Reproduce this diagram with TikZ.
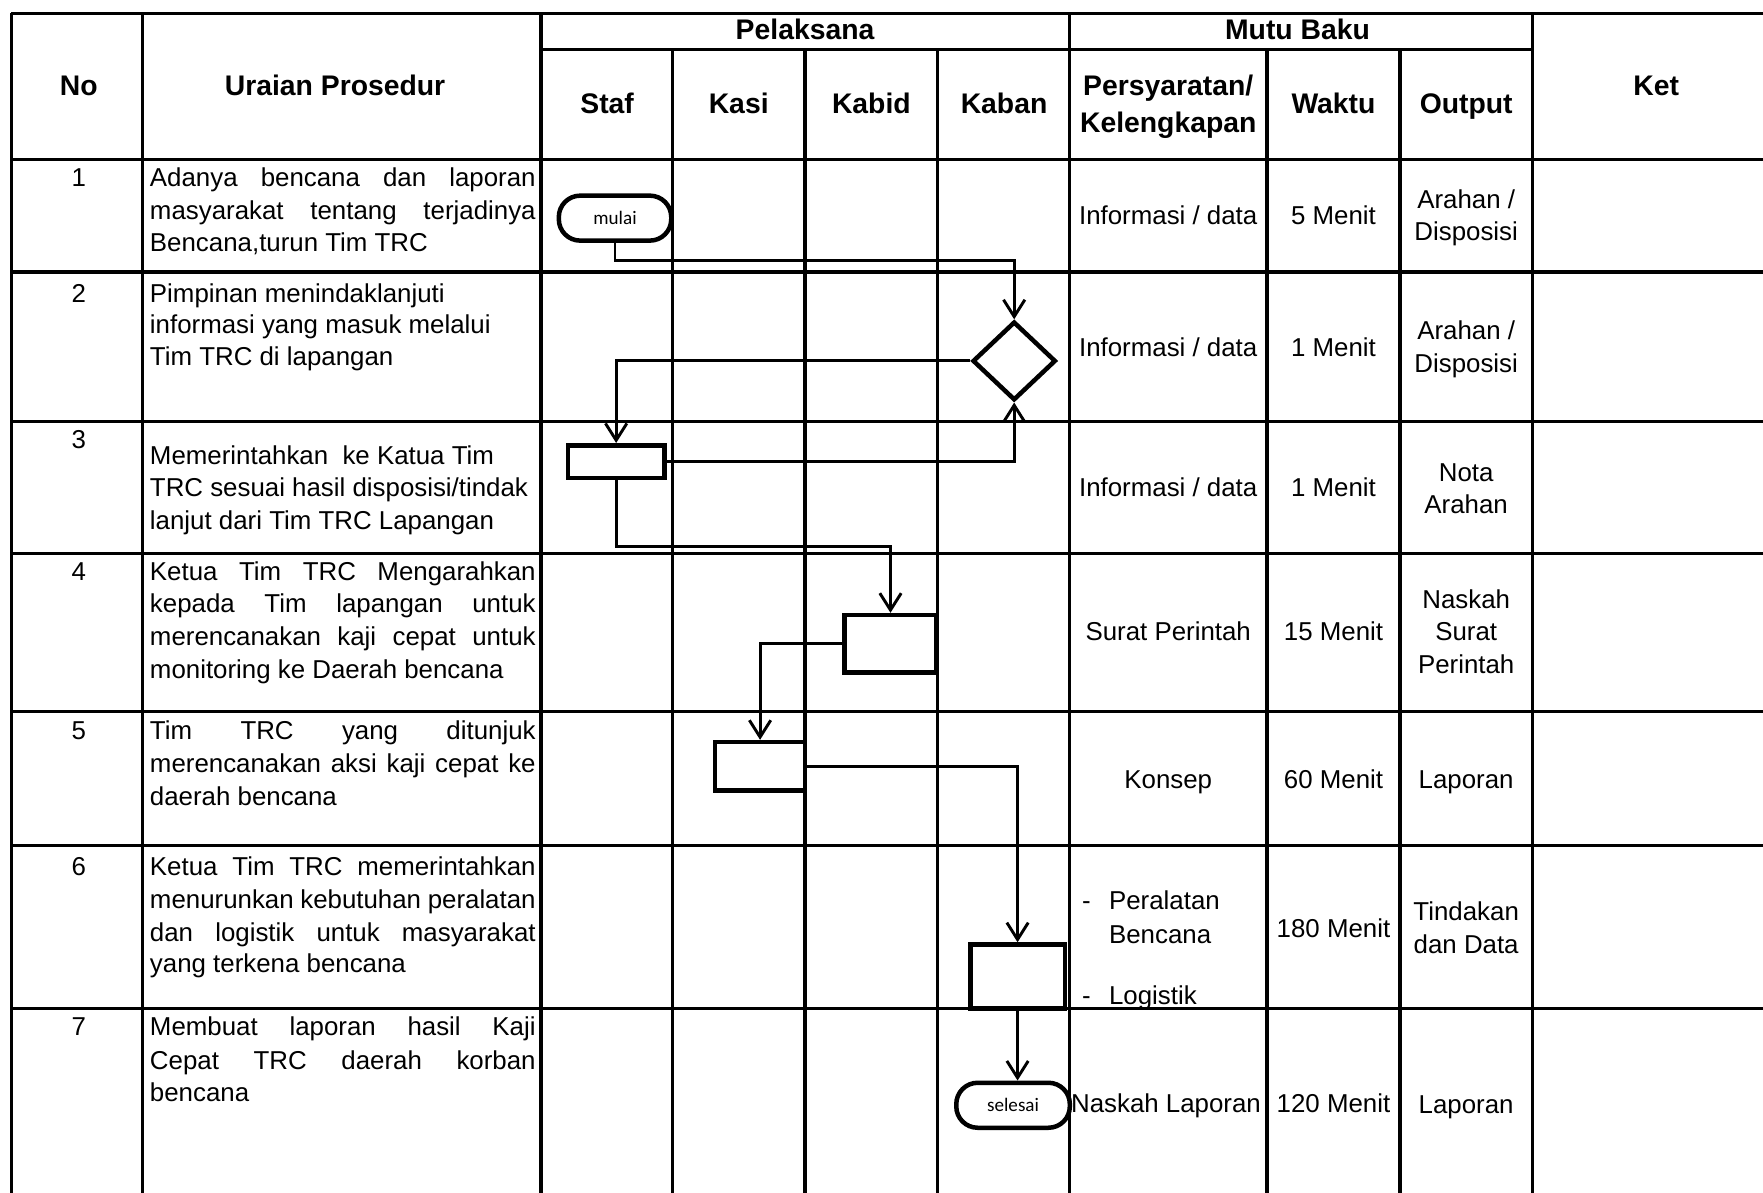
\documentclass[tikz,border=0pt]{standalone}
\usepackage{fontspec}
\setmainfont{Liberation Sans}
\newfontfamily\carl{Carlito}
\usetikzlibrary{arrows.meta,shapes.geometric}
\newcommand\jl[1]{\makebox[171.5pt][s]{#1}}
\begin{document}
\begin{tikzpicture}[x=0.5pt,y=-0.5pt,
  grid/.style={line width=1.5pt},
  conn/.style={line width=1.3pt,-{Straight Barb[length=7.5pt,width=9.5pt]}},
  box/.style={draw,line width=2pt,fill=white,inner sep=0pt},
  term/.style={box,rounded corners=9.5pt,font=\carl\fontsize{8.5}{10}\selectfont},
  hd/.style={font=\bfseries\fontsize{12.6}{14}\selectfont,inner sep=0pt,anchor=base},
  tx/.style={font=\fontsize{11.5}{14}\selectfont,inner sep=0pt,anchor=base},
  tl/.style={tx,anchor=base west},
]
\fill[white] (0,0) rectangle (1568,1061);
\useasboundingbox (0,0) rectangle (1568,1061);

% grid
\foreach \yy in {12,142,242,375,492,633,752,897}
  \draw[grid] (10,\yy) -- (1568,\yy);
\draw[grid] (481,44) -- (1363,44);
\foreach \xx in {10,127,481,951,1363}
  \draw[grid] (\xx,12) -- (\xx,1061);
\foreach \xx in {598,716,834,1127,1245}
  \draw[grid] (\xx,44) -- (\xx,1061);

% headers
\node[hd] (hno) at (70,85) {No};
\node[hd] (hur) at (298,85) {Uraian Prosedur};
\node[hd] (hpel) at (716,35) {Pelaksana};
\node[hd] (hmb) at (1154,35) {Mutu Baku};
\node[hd] (hstaf) at (540,101) {Staf};
\node[hd] (hkasi) at (657,101) {Kasi};
\node[hd] (hkabid) at (775,101) {Kabid};
\node[hd] (hkaban) at (893,101) {Kaban};
\node[hd] (hper) at (1039,85) {Persyaratan/};
\node[hd] (hkel) at (1039,118) {Kelengkapan};
\node[hd] (hwak) at (1186,101) {Waktu};
\node[hd] (hout) at (1304,101) {Output};
\node[hd] (hket) at (1473,85) {Ket};

% numbers
\node[tx] (n1) at (70,166) {1};
\node[tx] (n2) at (70,269) {2};
\node[tx] (n3) at (70,399) {3};
\node[tx] (n4) at (70,516) {4};
\node[tx] (n5) at (70,658) {5};
\node[tx] (n6) at (70,779) {6};
\node[tx] (n7) at (70,921) {7};

% descriptions
\node[tl] (d1a) at (133,166) {\jl{Adanya bencana dan laporan}};
\node[tl] (d1b) at (133,195) {\jl{masyarakat tentang terjadinya}};
\node[tl] (d1c) at (133,224) {Bencana,turun Tim TRC};
\node[tl] (d2a) at (133,269) {Pimpinan menindaklanjuti};
\node[tl] (d2b) at (133,297) {informasi yang masuk melalui};
\node[tl] (d2c) at (133,325) {Tim TRC di lapangan};
\node[tl] (d3a) at (133,413) {Memerintahkan\ \ ke Katua Tim};
\node[tl] (d3b) at (133,442) {TRC sesuai hasil disposisi/tindak};
\node[tl] (d3c) at (133,471) {lanjut dari Tim TRC Lapangan};
\node[tl] (d4a) at (133,516) {\jl{Ketua Tim TRC Mengarahkan}};
\node[tl] (d4b) at (133,545) {\jl{kepada Tim lapangan untuk}};
\node[tl] (d4c) at (133,574) {\jl{merencanakan kaji cepat untuk}};
\node[tl] (d4d) at (133,603) {monitoring ke Daerah bencana};
\node[tl] (d5a) at (133,658) {\jl{Tim TRC yang ditunjuk}};
\node[tl] (d5b) at (133,687) {\jl{merencanakan aksi kaji cepat ke}};
\node[tl] (d5c) at (133,716) {daerah bencana};
\node[tl] (d6a) at (133,779) {\jl{Ketua Tim TRC memerintahkan}};
\node[tl] (d6b) at (133,808) {\jl{menurunkan kebutuhan peralatan}};
\node[tl] (d6c) at (133,837) {\jl{dan logistik untuk masyarakat}};
\node[tl] (d6d) at (133,865) {yang terkena bencana};
\node[tl] (d7a) at (133,921) {\jl{Membuat laporan hasil Kaji}};
\node[tl] (d7b) at (133,951) {\jl{Cepat TRC daerah korban}};
\node[tl] (d7c) at (133,980) {bencana};

% mutu baku cells
\node[tx] (p1) at (1039,200) {Informasi / data};
\node[tx] (w1) at (1186,200) {5 Menit};
\node[tx] (o1a) at (1304,185) {Arahan /};
\node[tx] (o1b) at (1304,214) {Disposisi};
\node[tx] (p2) at (1039,317) {Informasi / data};
\node[tx] (w2) at (1186,317) {1 Menit};
\node[tx] (o2a) at (1304,302) {Arahan /};
\node[tx] (o2b) at (1304,331) {Disposisi};
\node[tx] (p3) at (1039,442) {Informasi / data};
\node[tx] (w3) at (1186,442) {1 Menit};
\node[tx] (o3a) at (1304,428) {Nota};
\node[tx] (o3b) at (1304,457) {Arahan};
\node[tx] (p4) at (1039,570) {Surat Perintah};
\node[tx] (w4) at (1186,570) {15 Menit};
\node[tx] (o4a) at (1304,541) {Naskah};
\node[tx] (o4b) at (1304,570) {Surat};
\node[tx] (o4c) at (1304,599) {Perintah};
\node[tx] (p5) at (1039,701) {Konsep};
\node[tx] (w5) at (1186,701) {60 Menit};
\node[tx] (o5) at (1304,701) {Laporan};
\node[tl] (p6da) at (962,809) {-};
\node[tl] (p6a) at (986,809) {Peralatan};
\node[tl] (p6b) at (986,839) {Bencana};
\node[tl] (p6db) at (962,893) {-};
\node[tl] (p6c) at (986,893) {Logistik};
\node[tx] (w6) at (1186,834) {180 Menit};
\node[tx] (o6a) at (1304,819) {Tindakan};
\node[tx] (o6b) at (1304,848) {dan Data};
\node[tx] (p7) at (1037,989) {Naskah Laporan};
\node[tx] (w7) at (1186,989) {120 Menit};
\node[tx] (o7) at (1304,990) {Laporan};

% flow shapes
\node[term,minimum width=50pt,minimum height=20pt] (mulai) at (547,194) {mulai};
\node[box,diamond,minimum width=37pt,minimum height=35pt] (dia) at (902,321) {};
\node[box,minimum width=43pt,minimum height=14.5pt] (r3) at (548,410.5) {};
\node[box,minimum width=41pt,minimum height=25.5pt] (r4) at (792,572.5) {};
\node[box,minimum width=40pt,minimum height=21.5pt] (r5) at (676,681.5) {};
\node[box,minimum width=42pt,minimum height=28.5pt] (r6) at (905,868.5) {};
\node[term,minimum width=50.5pt,minimum height=20pt] (sel) at (901,983) {selesai};

% connectors
\coordinate (c1) at (0,232);
\coordinate (c2) at (0,486);
\draw[conn] (mulai.south) |- (c1 -| dia.north) -- (dia.north);
\draw[conn] (dia.west) -| (r3.north);
\draw[conn] (r3.east) -| (dia.south);
\draw[conn] (r3.south) |- (c2 -| r4.north) -- (r4.north);
\draw[conn] (r4.west) -| (r5.north);
\draw[conn] (r5.east) -| (r6.north);
\draw[conn] (r6.south) -- (r6.south |- sel.north);
\end{tikzpicture}
\end{document}
